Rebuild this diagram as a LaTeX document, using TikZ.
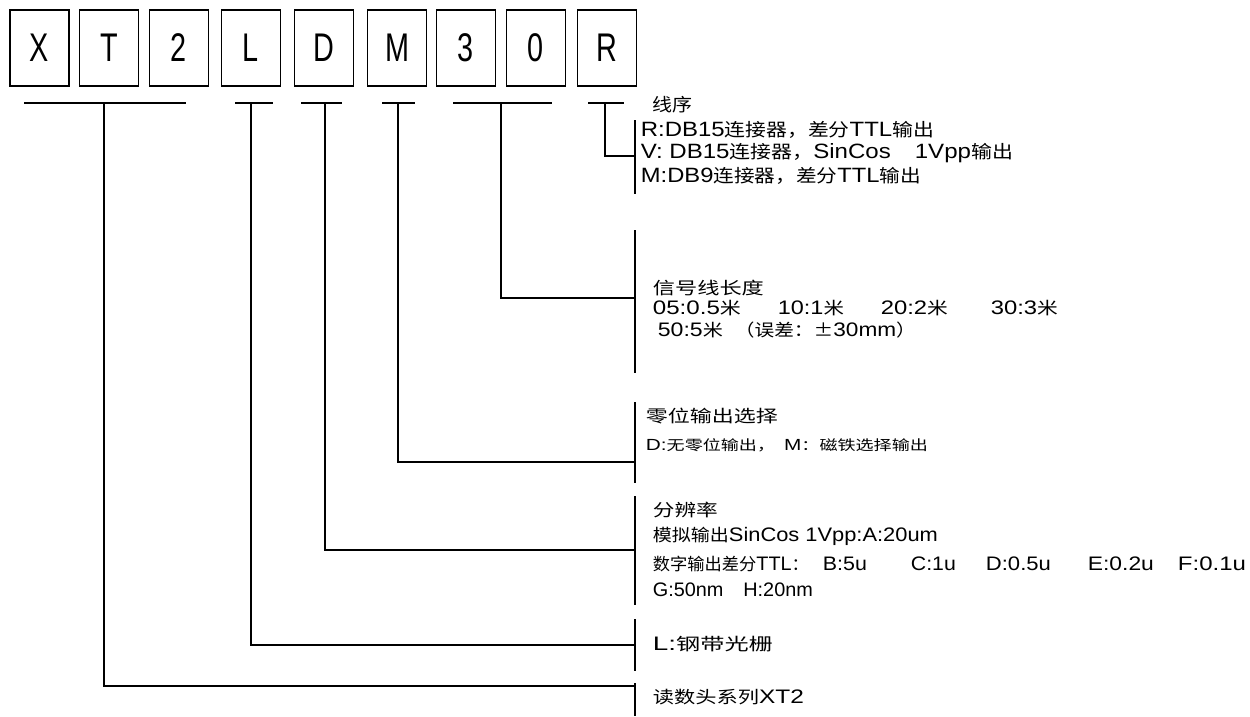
\documentclass[tikz,border=0pt]{standalone}
\usepackage{graphicx}
\usepackage{fontspec}
\setmainfont{Liberation Sans}
\newfontfamily\boxfont[FakeStretch=0.72]{Liberation Sans}
\newfontfamily\latfont[Scale=1.15]{Liberation Sans}
\newfontfamily\cjk{Noto Sans CJK SC}
\newcommand\la[1]{{\latfont #1}}
\newcommand\piece[2]{\resizebox{#1}{\height}{#2}}
\begin{document}
\begin{tikzpicture}[x=1pt,y=-1pt,line width=1.8pt,
  letterbox/.style={draw,minimum width=59pt,minimum height=76pt,inner sep=0pt,
    font=\boxfont\fontsize{40}{40}\selectfont},
  lblbig/.style={anchor=base west,inner sep=0pt,font=\cjk\fontsize{18}{18}\selectfont},
  lbl/.style={anchor=base west,inner sep=0pt,font=\cjk\fontsize{17}{17}\selectfont},
  lblsmall/.style={anchor=base west,inner sep=0pt,font=\cjk\fontsize{14}{14}\selectfont},
  conn/.style={line width=1.8pt}]
\useasboundingbox (0,0) rectangle (1250,716);
% letter boxes
\node[letterbox] (bX) at (39.5,48) {X};
\node[letterbox] (bT) at (109,48) {T};
\node[letterbox] (b2) at (179,48) {2};
\node[letterbox] (bL) at (251,48) {L};
\node[letterbox] (bD) at (324,48) {D};
\node[letterbox] (bM) at (397,48) {M};
\node[letterbox] (b3) at (466,48) {3};
\node[letterbox] (b0) at (536,48) {0};
\node[letterbox] (bR) at (607,48) {R};
% underline coordinates
\coordinate (uXa) at (24,103);  \coordinate (uXb) at (186,103); \coordinate (sX) at (104,103);
\coordinate (uLa) at (235,103); \coordinate (uLb) at (273,103); \coordinate (sL) at (251,103);
\coordinate (uDa) at (301,103); \coordinate (uDb) at (342,103); \coordinate (sD) at (325,103);
\coordinate (uMa) at (382,103); \coordinate (uMb) at (415,103); \coordinate (sM) at (398,103);
\coordinate (u3a) at (453,103); \coordinate (u3b) at (552,103); \coordinate (s3) at (501,103);
\coordinate (uRa) at (588,103); \coordinate (uRb) at (624,103); \coordinate (sR) at (605,103);
% bars
\coordinate (rRa) at (635,120); \coordinate (rRb) at (635,194); \coordinate (jR) at (635,156);
\coordinate (r3a) at (635,230); \coordinate (r3b) at (635,373); \coordinate (j3) at (635,298);
\coordinate (rMa) at (635,402); \coordinate (rMb) at (635,483); \coordinate (jM) at (635,462);
\coordinate (rDa) at (635,496); \coordinate (rDb) at (635,605); \coordinate (jD) at (635,550);
\coordinate (rLa) at (635,619); \coordinate (rLb) at (635,671); \coordinate (jL) at (635,645);
\coordinate (rXa) at (635,683); \coordinate (rXb) at (635,716); \coordinate (jX) at (635,686);
% underlines
\foreach \n in {X,L,D,M,3,R} {\draw[conn] (u\n a) -- (u\n b);}
% bars
\foreach \n in {R,3,M,D,L,X} {\draw[conn] (r\n a) -- (r\n b);}
% connectors
\foreach \n in {X,L,D,M,3,R} {\draw[conn] (s\n) |- (j\n);}
% texts: R block
\node[lblbig] (tR0) at (652,111.5) {\piece{40pt}{线序}};
\node[lblbig] (tR1) at (640,136.5) {\piece{293pt}{\la{R:DB15}连接器，差分\la{TTL}输出}};
\node[lblbig] (tR2) at (640,158.5) {\piece{372pt}{\la{V: DB15}连接器，\la{SinCos\hspace{1em}1Vpp}输出}};
\node[lblbig] (tR3) at (640,182.5) {\piece{280pt}{\la{M:DB9}连接器，差分\la{TTL}输出}};
% 30 block
\node[lbl] (t30) at (652,294.5) {\piece{111pt}{信号线长度}};
\node[lbl] (t31) at (652,314.5) {\piece{88pt}{\la{05:0.5}米}\hspace{37pt}\piece{66pt}{\la{10:1}米}\hspace{37pt}\piece{67pt}{\la{20:2}米}\hspace{43pt}\piece{67pt}{\la{30:3}米}};
\node[lbl] (t32) at (657,336.5) {\piece{65pt}{\la{50:5}米}\hspace{12pt}\piece{181pt}{（误差：±\la{30mm}）}};
% M block
\node[lbl] (tM0) at (645,422.5) {\piece{132pt}{零位输出选择}};
\node[lblsmall] (tM1) at (645,450) {\piece{282pt}{\la{D:}无零位输出，\hspace{0.5em}\la{M}：磁铁选择输出}};
% D block
\node[lbl] (tD0) at (652,516.5) {\piece{65pt}{分辨率}};
\node[lbl] (tD1) at (652,541.5) {\piece{285pt}{模拟输出\la{SinCos 1Vpp:A:20um}}};
\node[lbl] (tD2) at (652,570.5) {\piece{156pt}{数字输出差分\la{TTL}：}\hspace{14pt}\piece{44pt}{\la{B:5u}}\hspace{44pt}\piece{45pt}{\la{C:1u}}\hspace{30pt}\piece{65pt}{\la{D:0.5u}}\hspace{37pt}\piece{66pt}{\la{E:0.2u}}\hspace{24pt}\piece{68pt}{\la{F:0.1u}}};
\node[lbl] (tD3) at (652,596.5) {\piece{160pt}{\la{G:50nm\hspace{1em}H:20nm}}};
% L and X
\node[lbl] (tL) at (652,650.5) {\piece{120pt}{\la{L:}钢带光栅}};
\node[lbl] (tX) at (652,703.5) {\piece{151pt}{读数头系列\la{XT2}}};
\end{tikzpicture}
\end{document}
